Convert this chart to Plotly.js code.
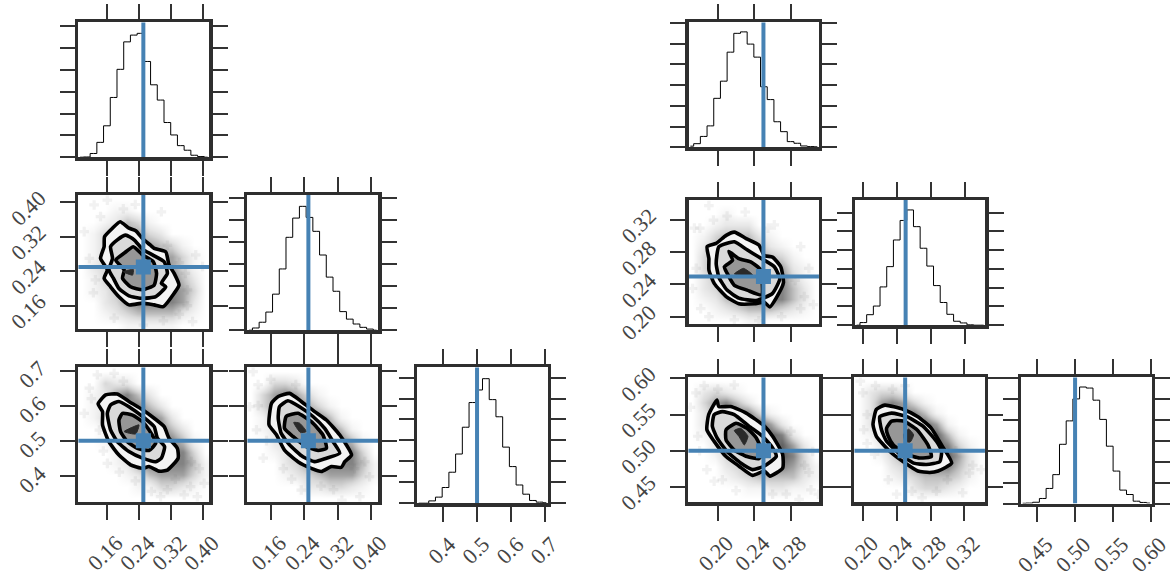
<!DOCTYPE html>
<html>
<head>
<meta charset="utf-8">
<script src="https://cdn.plot.ly/plotly-3.0.1.min.js"></script>
<style>html,body{margin:0;padding:0;background:#fff}</style>
</head>
<body>
<div id="chart" style="width:1174px;height:578px"></div>
<script>
// ---------- tick values ----------
const ticksWideX = [0.16, 0.24, 0.32, 0.40];
const labelsWideX = ['0.16', '0.24', '0.32', '0.40'];
const ticksThirdLeft = [0.4, 0.5, 0.6, 0.7];
const labelsThirdLeft = ['0.4', '0.5', '0.6', '0.7'];
const ticksNarrowA = [0.20, 0.24, 0.28];
const labelsNarrowA = ['0.20', '0.24', '0.28'];
const ticksNarrowB = [0.20, 0.24, 0.28, 0.32];
const labelsNarrowB = ['0.20', '0.24', '0.28', '0.32'];
const ticksThirdRight = [0.45, 0.50, 0.55, 0.60];
const labelsThirdRight = ['0.45', '0.50', '0.55', '0.60'];
const histTicks = [0, 1, 2, 3, 4, 5, 6];

// ---------- truth values ----------
const truthA = [0.25, 0.25, 0.5];
const truthB = [0.25, 0.25, 0.5];

// ---------- histograms (20 bins each) ----------
const histA1 = [0,0.01,0.17,0.68,1.44,2.74,4.03,5.29,5.6,5.68,4.39,3.32,2.62,1.59,1.02,0.53,0.32,0.09,0.03,0];
const histA3 = [0,0.1,0.36,0.82,1.63,2.77,4.2,5.07,5.6,5.1,4.47,3.4,2.4,1.76,0.84,0.5,0.28,0.13,0.05,0];
const histA6 = [0,0,0.11,0.29,0.75,1.48,2.35,3.63,4.81,5.41,5.95,4.95,4.13,2.68,1.75,0.87,0.43,0.13,0.05,0.02];
const histB1 = [0.05,0.17,0.52,1.03,2.36,3.19,4.59,5.5,5.57,4.98,4.35,2.92,2.3,1.23,0.75,0.27,0.19,0.06,0.03,0.02];
const histB3 = [0,0.14,0.56,1.02,2.04,3.12,4.54,5.58,6.14,5.25,4.1,3.15,2.11,1.21,0.58,0.21,0.12,0.02,0,0];
const histB6 = [0.01,0.02,0.06,0.24,0.72,1.38,2.83,3.95,5,5.57,5.52,4.94,4.02,2.74,1.55,0.64,0.43,0.11,0.05,0.02];

// ---------- contours A2 ----------
const a2OuterX = [.192,.214,.231,.248,.267,.277,.306,.314,.327,.339,.327,.300,.277,.248,.214,.189,.168,.152,.160,.143,.152,.153,.173];
const a2OuterY = [.355,.340,.334,.316,.301,.293,.285,.255,.235,.208,.189,.158,.162,.166,.162,.181,.204,.224,.243,.270,.297,.320,.340];
const a2MidX = [.206,.227,.248,.273,.302,.310,.295,.306,.281,.248,.214,.189,.175,.164,.173,.168,.185];
const a2MidY = [.324,.313,.291,.278,.262,.235,.212,.204,.181,.177,.183,.200,.224,.243,.270,.297,.313];
const a2InnerX = [.225,.248,.275,.283,.277,.248,.218,.198,.202,.181,.202];
const a2InnerY = [.297,.278,.262,.235,.208,.197,.204,.224,.243,.266,.282];
const a2CoreX = [.200,.225,.223];
const a2CoreY = [.239,.244,.231];

// ---------- contours A4 ----------
const a4OuterX = [.137,.156,.185,.214,.248,.277,.302,.314,.335,.337,.310,.289,.264,.248,.218,.189,.164,.148,.148];
const a4OuterY = [.605,.631,.633,.612,.588,.564,.540,.507,.478,.450,.416,.413,.426,.421,.431,.459,.497,.545,.583];
const a4MidX = [.168,.189,.214,.248,.277,.285,.303,.295,.281,.248,.214,.185,.168,.160];
const a4MidY = [.602,.612,.597,.569,.540,.507,.483,.450,.440,.450,.469,.497,.531,.578];
const a4InnerX = [.198,.223,.248,.264,.281,.264,.235,.210,.193,.189];
const a4InnerY = [.578,.573,.554,.531,.493,.472,.478,.497,.526,.559];
const a4CoreX = [.202,.239,.231];
const a4CoreY = [.526,.545,.519];

// ---------- contours A5 ----------
const a5OuterX = [.162,.178,.205,.233,.265,.293,.325,.353,.337,.329,.305,.281,.257,.225,.193,.174,.156];
const a5OuterY = [.607,.626,.635,.612,.583,.559,.516,.459,.440,.424,.426,.412,.421,.440,.473,.516,.545];
const a5MidX = [.181,.201,.229,.261,.289,.309,.325,.293,.265,.237,.205,.185,.178];
const a5MidY = [.597,.614,.597,.569,.535,.497,.464,.450,.440,.454,.488,.521,.564];
const a5InnerX = [.197,.225,.257,.285,.293,.273,.245,.213,.193];
const a5InnerY = [.569,.578,.554,.516,.478,.472,.483,.512,.535];
const a5CoreX = [.215,.229,.245,.231];
const a5CoreY = [.552,.550,.526,.523];

// ---------- contours B2 ----------
const b2OuterX = [.188,.198,.209,.218,.231,.245,.251,.260,.269,.272,.264,.257,.251,.240,.223,.209,.196,.190,.190];
const b2OuterY = [.287,.291,.301,.305,.297,.289,.276,.274,.262,.242,.223,.212,.218,.216,.216,.225,.241,.258,.272];
const b2MidX = [.201,.218,.232,.245,.262,.268,.260,.242,.223,.210,.201,.198];
const b2MidY = [.287,.293,.283,.274,.262,.247,.229,.220,.223,.233,.249,.266];
const b2InnerX = [.212,.223,.236,.247,.248,.232,.218,.210,.207,.216];
const b2InnerY = [.281,.272,.268,.258,.227,.233,.239,.254,.262,.270];
const b2CoreX = [.218,.228,.238];
const b2CoreY = [.253,.260,.252];

// ---------- contours B4 ----------
const b4OuterX = [.199,.201,.214,.231,.251,.260,.271,.271,.257,.251,.238,.223,.209,.196,.188,.190];
const b4OuterY = [.570,.561,.561,.552,.534,.520,.495,.476,.465,.472,.466,.479,.492,.513,.529,.550];
const b4MidX = [.196,.205,.218,.234,.249,.260,.264,.251,.238,.225,.210,.199,.194];
const b4MidY = [.550,.554,.550,.534,.520,.504,.492,.479,.474,.483,.499,.518,.534];
const b4InnerX = [.209,.220,.232,.242,.249,.245,.232,.218,.209];
const b4InnerY = [.529,.538,.531,.518,.497,.489,.492,.501,.515];
const b4CoreX = [.218,.225,.233,.229,.223];
const b4CoreY = [.528,.531,.520,.508,.520];

// ---------- contours B5 ----------
const b5OuterX = [.212,.216,.226,.248,.265,.281,.293,.305,.289,.279,.265,.250,.232,.216];
const b5OuterY = [.536,.557,.563,.557,.547,.531,.508,.483,.472,.470,.472,.483,.499,.520];
const b5MidX = [.220,.234,.252,.271,.287,.293,.291,.275,.260,.244,.228,.222];
const b5MidY = [.547,.552,.547,.534,.513,.499,.485,.481,.483,.495,.513,.529];
const b5InnerX = [.228,.234,.248,.264,.277,.281,.267,.252,.236,.230];
const b5InnerY = [.531,.541,.541,.529,.508,.492,.490,.495,.508,.520];
const b5CoreX = [.248,.254,.260,.256,.250];
const b5CoreY = [.522,.530,.522,.512,.513];

// ---------- cloud density, rows from top to bottom ----------
const cloudA2 = [
[0,0,0,0,0,0,0,0,0,0,0,0],[0,0,0,1,1,0,0,0,0,0,0,0],[0,0,1,2,4,3,1,0,0,0,0,0],[0,1,3,4,5,5,3,2,0,0,0,0],
[0,1,3,5,5,5,5,4,3,1,0,0],[0,1,3,5,5,5,5,5,5,3,1,0],[0,2,3,5,5,5,5,5,5,3,1,0],[0,1,3,5,5,5,5,5,6,4,2,0],
[0,1,2,4,5,5,5,5,6,5,3,0],[0,0,2,3,5,6,6,6,6,5,2,0],[0,0,1,2,3,4,4,4,4,2,1,0],[0,0,0,0,1,1,1,1,1,0,0,0]];
const cloudA4 = [
[0,0,0,0,0,0,0,0,0,0,0,0],[0,0,3,2,2,0,0,0,0,0,0,0],[0,1,2,5,6,4,2,0,0,0,0,0],[0,1,2,5,6,6,4,2,0,0,0,0],
[0,1,3,5,6,6,6,5,2,0,0,0],[0,0,1,3,6,6,6,6,4,2,0,0],[0,0,1,3,5,6,6,6,6,4,1,0],[0,0,0,1,4,6,6,6,6,6,3,0],
[0,0,0,1,2,5,6,6,6,6,4,1],[0,0,0,0,1,2,4,5,5,5,3,1],[0,0,0,0,0,1,1,3,3,2,1,0],[0,0,0,0,0,0,0,0,0,0,0,0]];
const cloudA5 = [
[0,0,0,0,0,0,0,0,0,0,0,0],[0,0,3,3,2,0,0,0,0,0,0,0],[0,3,5,6,5,3,1,0,0,0,0,0],[0,3,5,6,6,5,3,1,0,0,0,0],
[0,1,4,6,6,6,6,4,1,0,0,0],[0,1,2,5,6,6,6,6,4,1,0,0],[0,0,2,3,5,6,6,6,6,4,1,0],[0,0,1,2,5,6,6,6,6,6,3,0],
[0,0,0,2,3,5,6,6,6,6,4,1],[0,0,0,1,2,3,4,5,5,5,3,1],[0,0,0,0,0,2,2,3,3,2,1,0],[0,0,0,0,0,0,0,0,0,0,0,0]];
const cloudB2 = [
[0,0,0,0,0,0,0,0,0,0,0,0],[0,0,0,1,0,0,0,0,0,0,0,0],[0,0,1,2,2,2,0,0,0,0,0,0],[0,1,3,4,4,4,2,1,0,0,0,0],
[0,2,4,5,6,5,4,2,1,0,0,0],[0,3,5,6,6,6,5,4,3,1,0,0],[0,3,5,6,6,6,6,5,5,2,1,0],[0,2,4,6,6,6,6,6,6,3,1,0],
[0,2,3,5,6,6,6,6,6,4,2,0],[0,1,2,4,5,6,6,6,6,4,2,0],[0,0,1,2,3,4,4,4,3,2,1,0],[0,0,0,0,0,1,1,0,0,0,0,0]];
const cloudB4 = [
[0,0,0,0,0,0,0,0,0,0,0,0],[0,2,3,2,1,0,0,0,0,0,0,0],[0,3,5,6,4,2,0,0,0,0,0,0],[0,2,5,6,6,6,3,1,0,0,0,0],
[0,2,4,6,6,6,7,5,2,0,0,0],[0,1,2,5,6,6,6,7,6,2,0,0],[0,0,2,3,6,6,6,6,7,5,2,0],[0,0,1,3,4,6,6,6,7,6,3,0],
[0,0,0,2,3,5,6,6,6,5,3,1],[0,0,0,1,2,3,4,4,4,4,2,1],[0,0,0,0,0,1,1,2,2,1,1,0],[0,0,0,0,0,0,0,0,0,0,0,0]];
const cloudB5 = [
[0,0,0,0,0,0,0,0,0,0,0,0],[0,2,3,3,2,0,0,0,0,0,0,0],[0,2,5,6,5,3,1,0,0,0,0,0],[0,2,5,6,6,6,4,1,0,0,0,0],
[0,2,4,6,6,6,7,5,1,0,0,0],[0,1,3,5,6,6,6,7,4,1,0,0],[0,0,2,4,6,6,6,7,6,3,1,0],[0,0,1,3,5,6,6,6,7,5,2,0],
[0,0,0,2,3,5,6,6,6,4,2,0],[0,0,0,1,2,3,4,4,4,3,1,0],[0,0,0,0,0,2,3,3,2,1,0,0],[0,0,0,0,0,0,0,0,0,0,0,0]];

// ---------- scattered outlying samples ----------
const a2PointsX = [.127,.160,.295,.102,.381,.398,.177,.373,.143,.360,.340,.355,.360,.340,.300,.250,.130,.115,.125,.200,.230,.310];
const a2PointsY = [.394,.405,.378,.332,.278,.251,.131,.123,.367,.197,.260,.235,.160,.140,.125,.115,.220,.270,.190,.385,.395,.300];
const a4PointsX = [.135,.102,.160,.293,.385,.368,.402,.177,.352,.120,.140,.150,.190,.230,.270,.330,.370,.390,.310,.115,.200];
const a4PointsY = [.688,.578,.435,.340,.340,.369,.378,.692,.345,.620,.530,.470,.410,.385,.355,.390,.440,.420,.360,.650,.670];
const a5PointsX = [.118,.126,.142,.373,.396,.233,.110,.130,.130,.150,.190,.210,.280,.310,.360,.385,.330,.220,.160];
const a5PointsY = [.697,.531,.450,.340,.397,.359,.597,.660,.600,.500,.420,.390,.370,.360,.420,.440,.330,.660,.675];
const b2PointsX = [.174,.190,.291,.300,.262,.181,.218,.291,.180,.195,.210,.230,.176,.172,.190,.245,.270,.285,.295,.305,.255];
const b2PointsY = [.310,.338,.287,.260,.314,.210,.196,.210,.310,.320,.325,.330,.260,.235,.200,.195,.200,.245,.225,.215,.310];
const b4PointsX = [.176,.218,.196,.302,.289,.304,.188,.280,.170,.185,.200,.178,.180,.205,.220,.260,.275,.295,.310,.300];
const b4PointsY = [.580,.591,.458,.446,.433,.499,.474,.527,.560,.590,.585,.520,.500,.460,.445,.440,.440,.480,.440,.470];
const b5PointsX = [.197,.201,.258,.287,.340,.318,.214,.326,.200,.215,.235,.205,.205,.230,.240,.270,.300,.330,.310,.250];
const b5PointsY = [.596,.529,.444,.444,.474,.442,.495,.469,.580,.590,.585,.550,.510,.460,.440,.435,.460,.480,.500,.590];

// ---------- layout of the panels: box in page pixels, axis ranges ----------
const W = 1174, H = 578, INSET = 1.75;
const FONT = {family: '"Liberation Serif", serif', size: 22, color: '#444444'};
const FRAME = '#2e2e2e', TICK = '#333333', BLUE = '#4682b4';

const histPanels = [
 {box:[76.7,211,20.7,157.7],  xr:[.0835,.419], yr:[0,6.26], h:histA1, t:truthA[0], xt:ticksWideX},
 {box:[245.7,380,193.3,330.7],xr:[.1003,.421], yr:[0,6.19], h:histA3, t:truthA[1], xt:ticksWideX},
 {box:[415.3,549.7,365.7,503.7],xr:[.319,.713],yr:[0,6.57], h:histA6, t:truthA[2], xt:ticksThirdLeft, xl:labelsThirdLeft},
 {box:[687,820.7,20.7,147.7], xr:[.1659,.313], yr:[0,6.11], h:histB1, t:truthB[0], xt:ticksNarrowA},
 {box:[853.3,987,198.3,325.7],xr:[.188,.3464], yr:[0,6.76], h:histB3, t:truthB[1], xt:ticksNarrowB},
 {box:[1019.3,1153.3,375.7,504],xr:[.4264,.6032],yr:[0,6.11],h:histB6, t:truthB[2], xt:ticksThirdRight, xl:labelsThirdRight}
];
const cPanels = [
 {box:[76.7,211,193.3,330.7],  xr:[.0835,.419], yr:[.102,.421], tx:truthA[0], ty:truthA[1], xt:ticksWideX, yt:ticksWideX, yl:labelsWideX,
  cl:cloudA2, px:a2PointsX, py:a2PointsY, c:[[a2OuterX,a2OuterY],[a2MidX,a2MidY],[a2InnerX,a2InnerY],[a2CoreX,a2CoreY]]},
 {box:[76.7,211,365.7,503.7],  xr:[.0835,.419], yr:[.32,.714], tx:truthA[0], ty:truthA[2], xt:ticksWideX, xl:labelsWideX, yt:ticksThirdLeft, yl:labelsThirdLeft,
  cl:cloudA4, px:a4PointsX, py:a4PointsY, c:[[a4OuterX,a4OuterY],[a4MidX,a4MidY],[a4InnerX,a4InnerY],[a4CoreX,a4CoreY]]},
 {box:[245.7,380,365.7,503.7], xr:[.1003,.421], yr:[.32,.714], tx:truthA[1], ty:truthA[2], xt:ticksWideX, xl:labelsWideX, yt:ticksThirdLeft,
  cl:cloudA5, px:a5PointsX, py:a5PointsY, c:[[a5OuterX,a5OuterY],[a5MidX,a5MidY],[a5InnerX,a5InnerY],[a5CoreX,a5CoreY]]},
 {box:[687,820.7,198.3,325.7], xr:[.1659,.313], yr:[.1888,.347], tx:truthB[0], ty:truthB[1], xt:ticksNarrowA, yt:ticksNarrowB, yl:labelsNarrowB,
  cl:cloudB2, px:b2PointsX, py:b2PointsY, c:[[b2OuterX,b2OuterY],[b2MidX,b2MidY],[b2InnerX,b2InnerY],[b2CoreX,b2CoreY]]},
 {box:[686.7,821,375.7,504],   xr:[.1659,.313], yr:[.4265,.6036], tx:truthB[0], ty:truthB[2], xt:ticksNarrowA, xl:labelsNarrowA, yt:ticksThirdRight, yl:labelsThirdRight,
  cl:cloudB4, px:b4PointsX, py:b4PointsY, c:[[b4OuterX,b4OuterY],[b4MidX,b4MidY],[b4InnerX,b4InnerY],[b4CoreX,b4CoreY]]},
 {box:[852.7,986.7,375.7,504], xr:[.188,.3464], yr:[.4265,.6036], tx:truthB[1], ty:truthB[2], xt:ticksNarrowB, xl:labelsNarrowB, yt:ticksThirdRight,
  cl:cloudB5, px:b5PointsX, py:b5PointsY, c:[[b5OuterX,b5OuterY],[b5MidX,b5MidY],[b5InnerX,b5InnerY],[b5CoreX,b5CoreY]]}
];

const traces = [];
const layout = {
  width: W, height: H, autosize: false, showlegend: false, hovermode: false,
  paper_bgcolor: '#fff', plot_bgcolor: '#fff', font: FONT,
  margin: {l: 0, r: 0, t: 0, b: 0, pad: 0}
};

let idx = 0;
function addAxes(p, yLabelled, ytv, isHist) {
  idx++;
  const s = idx === 1 ? '' : String(idx);
  const [l, r, t, b] = p.box;
  const wd = r - l, ht = b - t;
  const bottomInset = isHist ? 0.5 : INSET;
  const upx = (p.xr[1]-p.xr[0])/wd, upy = (p.yr[1]-p.yr[0])/ht;
  const xr = [p.xr[0] + upx*INSET, p.xr[1] - upx*INSET];
  const yr = [isHist ? 0 : p.yr[0] + upy*INSET, p.yr[1] - upy*INSET];
  const base = {
    showgrid: false, zeroline: false, showline: true, linecolor: FRAME, linewidth: 3.5,
    mirror: 'ticks', ticks: 'outside', ticklen: 15, tickwidth: 2, tickcolor: TICK,
    tickfont: FONT, tickangle: -45, fixedrange: true, tickmode: 'array', ticklabeloverflow: 'allow'
  };
  layout['xaxis' + s] = Object.assign({}, base, {
    domain: [(l+INSET)/W, (r-INSET)/W], range: xr, anchor: 'y' + s,
    tickvals: p.xt, ticktext: p.xl || p.xt.map(String), showticklabels: !!p.xl,
    ticklabelstandoff: 1, ticklabelshift: (p.xl && p.xl[0].length === 3) ? 6 : 9
  });
  layout['yaxis' + s] = Object.assign({}, base, {
    domain: [1-(b-bottomInset)/H, 1-(t+INSET)/H], range: yr, anchor: 'x' + s,
    tickvals: ytv, ticktext: p.yl || ytv.map(String), showticklabels: !!(yLabelled && p.yl),
    ticklabelstandoff: 16, ticklabelshift: (p.yl && p.yl[0].length === 3) ? -5 : -7
  });
  return {xa: 'x' + s, ya: 'y' + s};
}

histPanels.forEach(p => {
  const a = addAxes(p, false, histTicks, true);
  const dx = (p.xr[1] - p.xr[0]) / p.h.length;
  traces.push({type: 'scatter', mode: 'lines', x0: p.xr[0] + dx/2, dx: dx, y: p.h, xaxis: a.xa, yaxis: a.ya,
    line: {color: '#000', width: 1, shape: 'hvh'}});
  traces.push({type: 'scatter', mode: 'lines', x: [p.t, p.t], y: p.yr, xaxis: a.xa, yaxis: a.ya,
    line: {color: BLUE, width: 4}});
});

const greys = [[0,'#ffffff'],[1/9,'#f4f4f4'],[2/9,'#e8e8e8'],[3/9,'#d8d8d8'],[4/9,'#c0c0c0'],[5/9,'#a2a2a2'],[6/9,'#828282'],[7/9,'#606060'],[1,'#333333']];
const levelFill = ['#f4f4f4', '#dadada', '#979797', '#2a2a2a'];

cPanels.forEach(p => {
  const a = addAxes(p, true, p.yt, false);
  const nx = p.cl[0].length, ny = p.cl.length;
  const dx = (p.xr[1]-p.xr[0])/nx, dy = (p.yr[1]-p.yr[0])/ny;
  traces.push({type: 'heatmap', z: p.cl.slice().reverse(), x0: p.xr[0]+dx/2, dx: dx, y0: p.yr[0]+dy/2, dy: dy,
    xaxis: a.xa, yaxis: a.ya, zmin: 0, zmax: 9, zsmooth: 'best', colorscale: greys, showscale: false, hoverinfo: 'skip'});
  traces.push({type: 'scatter', mode: 'markers', x: p.px, y: p.py, xaxis: a.xa, yaxis: a.ya,
    marker: {symbol: 'cross', size: 8, color: 'rgba(90,90,90,0.08)', line: {width: 0}}});
  p.c.forEach((poly, i) => {
    const isCore = i === 3;
    traces.push({type: 'scatter', mode: 'lines', x: poly[0].concat(poly[0][0]), y: poly[1].concat(poly[1][0]),
      xaxis: a.xa, yaxis: a.ya, fill: 'toself', fillcolor: levelFill[i],
      line: {color: isCore ? levelFill[3] : '#000', width: isCore ? 1 : 3.6, shape: 'spline', smoothing: 0.5}});
  });
  traces.push({type: 'scatter', mode: 'lines', x: [p.tx, p.tx], y: p.yr, xaxis: a.xa, yaxis: a.ya, line: {color: BLUE, width: 4}});
  traces.push({type: 'scatter', mode: 'lines', x: p.xr, y: [p.ty, p.ty], xaxis: a.xa, yaxis: a.ya, line: {color: BLUE, width: 4}});
  traces.push({type: 'scatter', mode: 'markers', x: [p.tx], y: [p.ty], xaxis: a.xa, yaxis: a.ya,
    marker: {symbol: 'square', size: 15, color: BLUE, line: {width: 0}}});
});

Plotly.newPlot('chart', traces, layout, {displayModeBar: false, staticPlot: true});
</script>
</body>
</html>
